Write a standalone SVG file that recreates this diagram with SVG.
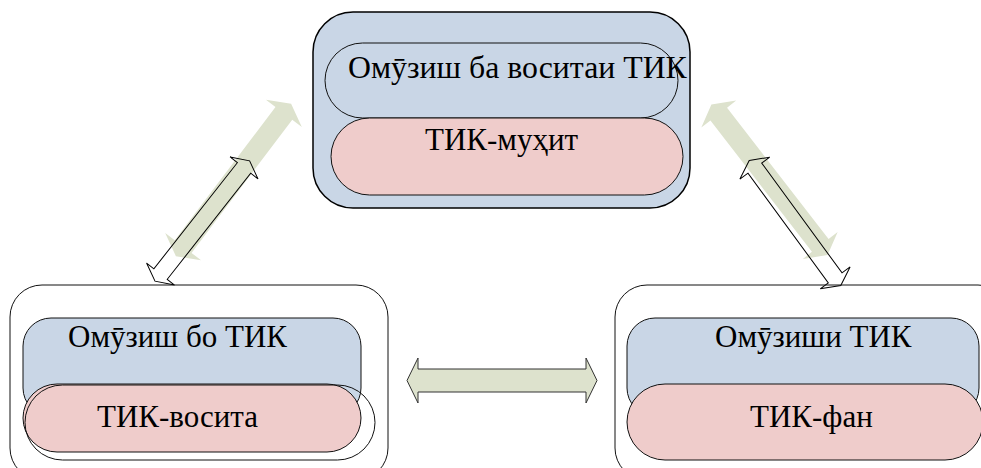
<svg xmlns="http://www.w3.org/2000/svg" width="981" height="468" viewBox="0 0 981 468">
<style>
.lbl{font-family:'Liberation Serif','Times New Roman',serif;font-size:31px;fill:#000}
.blue{fill:#c9d6e6;stroke:#111;stroke-width:1}
.pink{fill:#efcccb;stroke:#111;stroke-width:1}
.frame{fill:none;stroke:#111;stroke-width:1}
.green{fill:#dde2cd;stroke:none}
.hollow{fill:none;stroke:#000;stroke-width:1}
.harrow{fill:#dde2cd;stroke:#333;stroke-width:1}
</style>
<rect width="981" height="468" fill="#fff"/>
<g id="connectors">
<polygon class="green" transform="translate(233.5,180) rotate(-52.9)" points="-95.5,0 -83.5,-22.5 -83.5,-10.5 83.5,-10.5 83.5,-22.5 95.5,0 83.5,22.5 83.5,10.5 -83.5,10.5 -83.5,22.5"/>
<polygon class="green" transform="translate(769.5,179.75) rotate(52.3)" points="-95,0 -83,-22 -83,-10.5 83,-10.5 83,-22 95,0 83,22 83,10.5 -83,10.5 -83,22"/>
<polygon class="hollow" transform="translate(202.3,221) rotate(-51.8)" points="-76.5,0 -67.5,-17.8 -67.5,-8.5 67.5,-8.5 67.5,-17.8 76.5,0 67.5,17.8 67.5,8.5 -67.5,8.5 -67.5,17.8"/>
<polygon class="hollow" transform="translate(795,223) rotate(53.8)" points="-77.5,0 -68,-18.5 -68,-8.5 68,-8.5 68,-18.5 77.5,0 68,18.5 68,8.5 -68,8.5 -68,18.5"/>
<polygon class="harrow" transform="translate(502,380.5)" points="-95,0 -84,-22.5 -84,-11.5 84,-11.5 84,-22.5 95,0 84,22.5 84,11.5 -84,11.5 -84,22.5"/>
</g>
<g id="node-top">
<rect x="313" y="12" width="377" height="196" rx="40" ry="40" fill="#c9d6e6" stroke="#000" stroke-width="1.5"/>
<rect class="blue" x="325" y="43" width="353" height="75" rx="37.5" ry="37.5"/>
<rect class="pink" x="331" y="118" width="352" height="77" rx="38.5" ry="38.5"/>
<text class="lbl" x="348" y="78" style="font-size:31.8px">Омӯзиш ба воситаи ТИК</text>
<text class="lbl" x="425" y="150">ТИК-муҳит</text>
</g>
<g id="node-left">
<rect class="frame" x="10" y="285" width="378" height="195" rx="32" ry="32"/>
<rect class="blue" x="23" y="318" width="338" height="98" rx="28" ry="28"/>
<rect class="pink" x="23" y="384" width="338" height="68" rx="34" ry="34"/>
<rect class="frame" x="25" y="385" width="350" height="75" rx="37.5" ry="37.5"/>
<text class="lbl" x="68" y="347">Омӯзиш бо ТИК</text>
<text class="lbl" x="97" y="427">ТИК-восита</text>
</g>
<g id="node-right">
<rect class="frame" x="615" y="285" width="395" height="195" rx="32" ry="32"/>
<rect class="blue" x="627" y="318" width="352" height="98" rx="28" ry="28"/>
<rect class="pink" x="627" y="384" width="356" height="76" rx="38" ry="38"/>
<text class="lbl" x="715" y="347">Омӯзиши ТИК</text>
<text class="lbl" x="750" y="427">ТИК-фан</text>
</g>
</svg>
